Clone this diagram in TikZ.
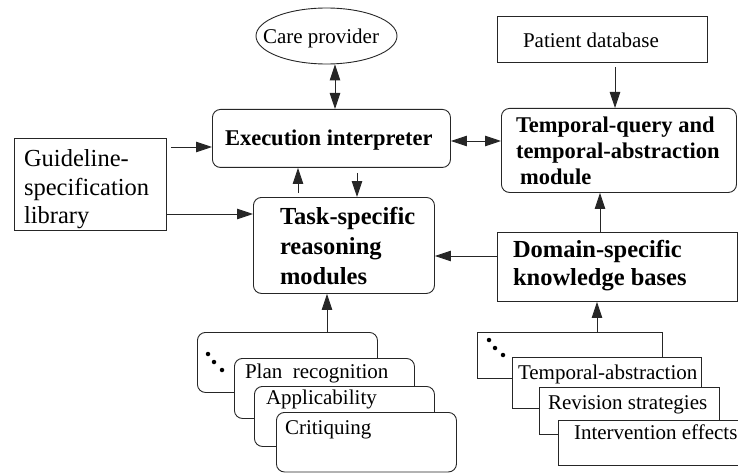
\documentclass[tikz,border=0pt]{standalone}
\usepackage{fontspec}
\setmainfont{Liberation Serif}
\usetikzlibrary{arrows.meta,shapes.geometric}
\tikzset{
  ln/.style={line width=0.9pt, draw=black!85},
  sqbox/.style={ln, rectangle, anchor=north west, inner sep=0pt, fill=white},
  rdbox/.style={sqbox, rounded corners=8pt},
  arr/.style={ln, -{Triangle[length=16pt,width=10.5pt]}},
  darr/.style={ln, {Triangle[length=16pt,width=10.5pt]}-{Triangle[length=16pt,width=10.5pt]}},
  txt/.style={anchor=base west, inner sep=0pt, outer sep=0pt},
  rs/.style={txt, font=\fontsize{21}{25}\selectfont},
  bm/.style={txt, font=\fontsize{22.5}{27}\selectfont\bfseries},
  bl/.style={txt, font=\fontsize{24.5}{29}\selectfont\bfseries},
  rl/.style={txt, font=\fontsize{24.5}{29}\selectfont},
  dot/.style={fill=black, draw=none, circle, inner sep=0pt, minimum size=4.5pt}
}
\begin{document}
\begin{tikzpicture}[x=1pt,y=-1pt]
\useasboundingbox (0,0) rectangle (738,473);
% main boxes
\node[ln, ellipse, minimum width=141pt, minimum height=56pt, inner sep=0pt] (care) at (326.5,36) {};
\node[rdbox, minimum width=238pt, minimum height=58pt] (exec) at (212,109) {};
\node[sqbox, minimum width=152pt, minimum height=92pt] (guide) at (14,138) {};
\node[rdbox, minimum width=181pt, minimum height=96pt] (task) at (253,197) {};
\node[sqbox, minimum width=210pt, minimum height=46pt] (patient) at (497,16) {};
\node[rdbox, minimum width=235pt, minimum height=84pt] (temp) at (501,108) {};
\node[sqbox, minimum width=240pt, minimum height=69pt] (domain) at (497,232) {};
% left stack
\node[rdbox, minimum width=180pt, minimum height=60pt] (l1) at (197,332) {};
\node[rdbox, minimum width=180pt, minimum height=60pt] (l2) at (234,358) {};
\node[rdbox, minimum width=180pt, minimum height=60pt] (l3) at (254,386) {};
\node[rdbox, minimum width=180pt, minimum height=59.5pt] (l4) at (276,412) {};
% right stack
\node[sqbox, minimum width=185pt, minimum height=46pt] (r1) at (477,332) {};
\node[sqbox, minimum width=189pt, minimum height=51pt] (r2) at (512,357) {};
\node[sqbox, minimum width=180pt, minimum height=47pt] (r3) at (539,387) {};
\node[sqbox, minimum width=182pt, minimum height=45pt] (r4) at (558,420) {};
% dots
\node[dot] (ld1) at (208,354) {};
\node[dot] (ld2) at (214,362) {};
\node[dot] (ld3) at (222,370) {};
\node[dot] (rd1) at (489,340) {};
\node[dot] (rd2) at (495,348) {};
\node[dot] (rd3) at (503,355) {};
% texts
\node[rs] (tcare) at (263,44) {Care provider};
\node[bm] (texec) at (225,146) {Execution interpreter};
\node[rl] (tg1) at (24,167) {Guideline-};
\node[rl] (tg2) at (24,195) {specification};
\node[rl] (tg3) at (24,223) {library};
\node[bl] (tt1) at (280,224) {Task-specific};
\node[bl] (tt2) at (280,254) {reasoning};
\node[bl] (tt3) at (280,284) {modules};
\node[rs] (tpat) at (523,48) {Patient database};
\node[bm] (tq1) at (516,133) {Temporal-query and};
\node[bm] (tq2) at (516,159) {temporal-abstraction};
\node[bm] (tq3) at (520,185) {module};
\node[bl] (td1) at (513,257) {Domain-specific};
\node[bl] (td2) at (513,285) {knowledge bases};
\node[rs] (tl2) at (245,378) {Plan\ \ recognition};
\node[rs] (tl3) at (266,404) {Applicability};
\node[rs] (tl4) at (285,434) {Critiquing};
\node[rs] (tr2) at (518,379) {Temporal-abstraction};
\node[rs] (tr3) at (548,409) {Revision strategies};
\node[rs] (tr4) at (574,439) {Intervention effects};
% connectors
\draw[darr] (care.south -| 335,0) -- (exec.north -| 335,0);
\draw[arr, shorten <=4pt] (guide.east |- 0,147) -- (exec.west |- 0,147);
\draw[arr] (guide.east |- 0,214) -- (task.west |- 0,214);
\draw[arr, shorten <=4pt] (task.north -| 298,0) -- (exec.south -| 298,0);
\draw[arr, shorten <=5pt] (exec.south -| 357,0) -- (task.north -| 357,0);
\draw[darr] (exec.east |- 0,141) -- (temp.west |- 0,141);
\draw[arr, shorten <=4pt] (patient.south -| 615,0) -- (temp.north -| 615,0);
\draw[arr] (domain.north -| 600,0) -- (temp.south -| 600,0);
\draw[arr] (domain.west |- 0,256) -- (task.east |- 0,256);
\draw[arr] (l1.north -| 327,0) -- (task.south -| 327,0);
\draw[arr] (r1.north -| 597,0) -- (domain.south -| 597,0);
\end{tikzpicture}
\end{document}
